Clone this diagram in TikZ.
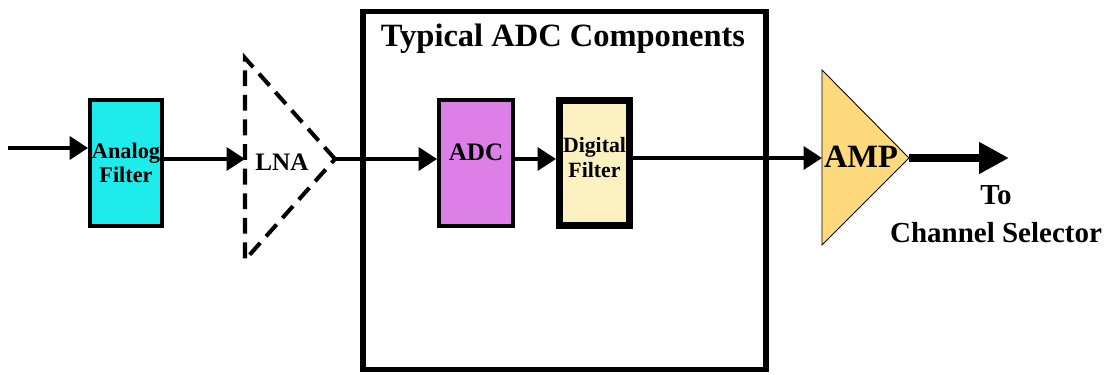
\documentclass[tikz,border=0pt]{standalone}
\usepackage{fontspec}
\setmainfont{Liberation Serif}
\usetikzlibrary{arrows.meta,calc}
\definecolor{AnalogClr}{RGB}{30,235,235}
\definecolor{AdcClr}{RGB}{220,128,232}
\definecolor{DigClr}{RGB}{250,240,192}
\definecolor{AmpClr}{RGB}{255,218,125}

\begin{document}
\begin{tikzpicture}[x=0.02cm,y=-0.02cm,
  blk/.style={draw,line width=2.2pt,minimum width=1.44cm,minimum height=2.52cm,inner sep=0pt,align=center},
  txt/.style={font=\bfseries\fontsize{#1}{#1}\selectfont,align=center},
  conn/.style={line width=2.3pt,-{Triangle[length=10.5pt,width=13pt]}}]
\useasboundingbox (0,0) rectangle (1110,375);

\node[draw,line width=3pt,minimum width=8.06cm,minimum height=7.16cm] (grp) at (564.5,190.5) {};
\node[txt=18.5] (title) at (563,39) {Typical ADC Components};

\node[blk,fill=AnalogClr,txt=12.7] (af) at (126,163) {Analog\\[1pt]Filter};
\node[blk,fill=AdcClr,minimum width=1.48cm,txt=14.3] (adc) at (476,163) {ADC\\[-2pt]\mbox{}};
\node[blk,fill=DigClr,line width=4pt,minimum width=1.4cm,minimum height=2.5cm,txt=12.4] (df) at (594.5,163) {Digital\\[2pt]Filter\\[-6pt]\mbox{}};

\coordinate (lnaT) at (245,58);
\coordinate (lnaB) at (245,260);
\coordinate (lnaOut) at (335,159);
\coordinate (lnaIn) at (245,159);
\draw[line width=2.3pt,dash pattern=on 9pt off 5pt] (lnaOut) -- (lnaT) -- (lnaB) -- cycle;
\node[txt=14.3] (lna) at (282,162) {LNA};

\coordinate (ampT) at (822,70);
\coordinate (ampB) at (822,245);
\coordinate (ampOut) at (909,158);
\draw[fill=AmpClr,line width=0.5pt] (ampT) -- (ampOut) -- (ampB) -- cycle;
\node[txt=18.5] (amp) at (861,157) {AMP};

\coordinate (in) at (8,148);
\coordinate (out) at (1009,158);
\node[txt=16.5,inner sep=0pt] (dest) at (996,214) {To\\[5pt]Channel Selector};

\draw[conn] (in) -- (in -| af.west);
\draw[conn] (af.east |- lnaIn) -- (lnaIn);
\draw[conn] (lnaOut) -- (lnaOut -| adc.west);
\draw[conn] (adc.east |- lnaOut) -- (df.west |- lnaOut);
\draw[conn] (df.east |- ampOut) -- (ampT |- ampOut);
\draw[line width=4.5pt,-{Triangle[length=17pt,width=17pt]}] (ampOut) -- (out);

\end{tikzpicture}
\end{document}
